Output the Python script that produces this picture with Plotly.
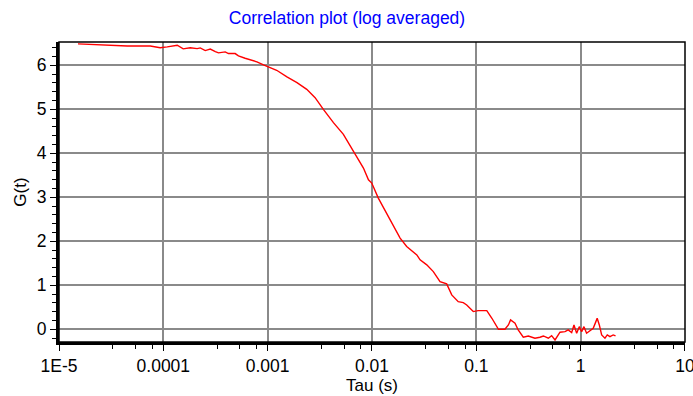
import plotly.graph_objects as go

tau_s = [1.52e-5, 2.51e-5, 4.51e-5, 7.50e-5, 9.33e-5, 1.09e-4, 1.36e-4, 1.55e-4, 1.81e-4, 2.11e-4,
         2.26e-4, 2.52e-4, 2.82e-4, 3.15e-4, 3.38e-4, 3.92e-4, 4.21e-4, 4.88e-4, 5.25e-4, 6.08e-4,
         6.79e-4, 7.89e-4, 9.12e-4, 9.82e-4, 1.22e-3, 1.53e-3, 1.91e-3, 2.37e-3, 2.85e-3, 3.42e-3,
         4.27e-3, 5.32e-3, 6.17e-3, 7.14e-3, 8.28e-3, 9.25e-3, 9.95e-3, 1.15e-2, 1.44e-2, 1.55e-2,
         1.86e-2, 2.15e-2, 2.69e-2, 2.89e-2, 3.35e-2, 3.87e-2, 4.49e-2, 5.20e-2, 5.81e-2, 6.71e-2,
         7.50e-2, 8.09e-2, 9.35e-2, 0.104, 0.126, 0.141, 0.163, 0.188, 0.203, 0.213,
         0.235, 0.252, 0.282, 0.315, 0.365, 0.407, 0.439, 0.490, 0.527, 0.568,
         0.634, 0.708, 0.760, 0.820, 0.863, 0.916, 0.970, 1.023, 1.076, 1.14,
         1.23, 1.32, 1.40, 1.44, 1.51, 1.59, 1.71, 1.80, 1.91, 2.05, 2.16]
g_t = [6.488, 6.47, 6.44, 6.44, 6.40, 6.42, 6.456, 6.374, 6.40, 6.38,
       6.396, 6.335, 6.369, 6.312, 6.283, 6.305, 6.267, 6.267, 6.214, 6.160,
       6.130, 6.078, 6.010, 5.978, 5.887, 5.736, 5.607, 5.454, 5.265, 4.999,
       4.696, 4.430, 4.166, 3.938, 3.665, 3.399, 3.323, 2.982, 2.563, 2.413,
       2.072, 1.880, 1.691, 1.578, 1.464, 1.311, 1.084, 1.031, 0.781, 0.628,
       0.606, 0.553, 0.401, 0.423, 0.423, 0.250, 0.0, 0.0, 0.098, 0.212,
       0.137, -0.016, -0.182, -0.153, -0.205, -0.182, -0.153, -0.205, -0.146, -0.244,
       -0.068, -0.055, -0.016, -0.077, 0.098, -0.091, 0.059, -0.055, 0.059, -0.091,
       -0.032, 0.023, 0.173, 0.250, 0.098, -0.130, -0.205, -0.130, -0.168, -0.130, -0.153]

x_tick_vals = [1e-5, 1e-4, 1e-3, 1e-2, 1e-1, 1, 10]
x_tick_text = ["1E-5", "0.0001", "0.001", "0.01", "0.1", "1", "10"]
y_tick_vals = [0, 1, 2, 3, 4, 5, 6]
minor_mult = [3.27, 5.43, 7.8]
decades = [1e-5, 1e-4, 1e-3, 1e-2, 1e-1, 1]
x_minor = [d * m for d in decades for m in minor_mult]

FONT = "Liberation Sans, Arial, sans-serif"
GRID = "#8a8a8a"

fig = go.Figure()
fig.add_trace(go.Scatter(x=tau_s, y=g_t, mode="lines",
                         line=dict(color="#ff0000", width=1.4), showlegend=False))

fig.update_layout(
    width=693, height=396,
    margin=dict(l=59, r=8, t=42, b=54, autoexpand=False),
    paper_bgcolor="white", plot_bgcolor="white",
    font=dict(family=FONT, size=17, color="black"),
    title=dict(text="Correlation plot (log averaged)", x=347 / 693, xref="container",
               y=1 - 18 / 396, yref="container", yanchor="middle", xanchor="center",
               font=dict(family=FONT, size=17.5, color="#0000ff")),
    xaxis=dict(type="log", range=[-5, 1.0002], tickvals=x_tick_vals, ticktext=x_tick_text,
               showgrid=True, gridcolor=GRID, gridwidth=1.5, automargin=False,
               ticks="outside", ticklen=6, tickwidth=1, tickcolor="black",
               showline=True, linecolor="black", linewidth=3, mirror=False,
               zeroline=False, tickfont=dict(size=17.5), ticklabeloverflow="allow",
               minor=dict(tickvals=x_minor, ticks="outside", ticklen=4, tickwidth=1,
                          tickcolor="black", showgrid=False),
               title=dict(text="Tau (s)", standoff=2, font=dict(family=FONT, size=17))),
    yaxis=dict(range=[-0.29, 6.53], tickvals=y_tick_vals,
               showgrid=True, gridcolor=GRID, gridwidth=1.5, automargin=False,
               ticks="outside", ticklen=6, tickwidth=1, tickcolor="black",
               showline=True, linecolor="black", linewidth=3, mirror=False,
               zeroline=False, tickfont=dict(size=17.5),
               minor=dict(tick0=0, dtick=0.2, ticks="outside", ticklen=4, tickwidth=1,
                          tickcolor="black", showgrid=False),
               title=dict(text="G(t)", standoff=6, font=dict(family=FONT, size=17))),
    shapes=[dict(type="rect", xref="paper", yref="paper", x0=0, x1=1, y0=0, y1=1,
                 line=dict(color="black", width=1.5), layer="above")],
)

fig.write_html("out.html")
